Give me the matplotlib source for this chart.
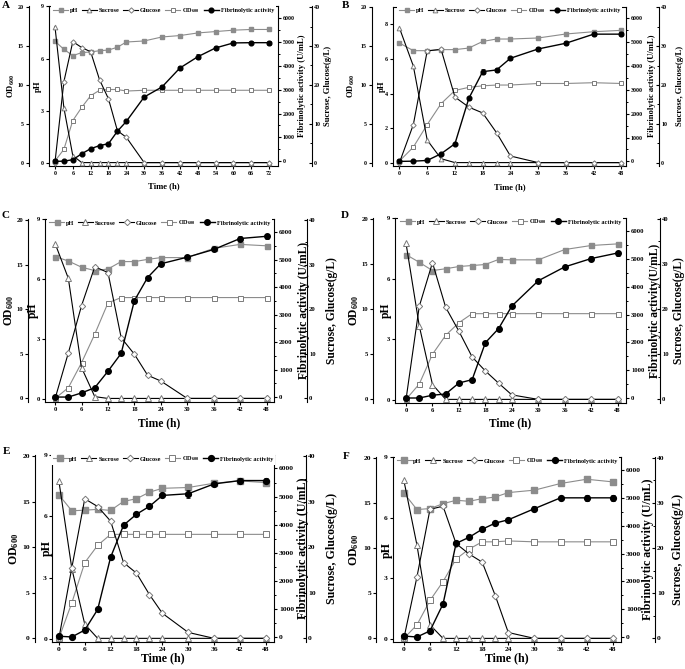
import matplotlib

matplotlib.use("Agg")
import matplotlib.pyplot as plt  # noqa: E402
from matplotlib.ticker import MultipleLocator  # noqa: E402

plt.rcParams["font.family"] = "Liberation Serif"
plt.rcParams["font.weight"] = "bold"
plt.rcParams["axes.labelweight"] = "bold"
plt.rcParams["mathtext.fontset"] = "custom"
plt.rcParams["mathtext.rm"] = "Liberation Serif:bold"
plt.rcParams["mathtext.bf"] = "Liberation Serif:bold"
plt.rcParams["mathtext.default"] = "bf"

# sampling times (h)
T72 = [0, 3, 6, 9, 12, 15, 18, 21, 24, 30, 36, 42, 48, 54, 60, 66, 72]
T48 = [0, 3, 6, 9, 12, 15, 18, 21, 24, 30, 36, 42, 48]

# panel A
A_PH = [7.00, 6.53, 6.17, 6.34, 6.38, 6.45, 6.49, 6.65, 6.95, 7.01, 7.24, 7.32, 7.47, 7.55, 7.63, 7.67, 7.67]
A_SUC = [35.0, 14.1, 1.8, 0, 0, 0, 0, 0, 0, 0, 0, 0, 0, 0, 0, 0, 0]
A_GLC = [0, 20.8, 31.1, 29.6, 28.5, 21.3, 16.4, 8.2, 6.5, 0, 0, 0, 0, 0, 0, 0, 0]
A_OD = [0.2, 1.7, 5.4, 7.1, 8.6, 9.3, 9.4, 9.4, 9.2, 9.3, 9.3, 9.3, 9.3, 9.3, 9.3, 9.3, 9.3]
A_FIB = [0, 10, 70, 320, 530, 660, 740, 1260, 1670, 2690, 3110, 3900, 4370, 4740, 4950, 4960, 4960]
A_ERR = [0, 0, 20, 30, 30, 30, 30, 50, 60, 60, 80, 90, 100, 80, 70, 70, 80]

# panel B
B_PH = [6.91, 6.47, 6.47, 6.53, 6.53, 6.62, 7.00, 7.14, 7.14, 7.20, 7.43, 7.56, 7.64]
B_SUC = [34.7, 24.9, 5.8, 1.0, 0, 0, 0, 0, 0, 0, 0, 0, 0]
B_GLC = [0, 9.8, 28.8, 29.2, 16.9, 14.3, 12.8, 7.7, 1.7, 0, 0, 0, 0]
B_OD = [0.2, 2.0, 4.9, 7.6, 9.3, 9.7, 9.9, 10.0, 10.0, 10.2, 10.2, 10.3, 10.2]
B_FIB = [0, 10, 40, 320, 740, 2640, 3760, 3830, 4320, 4710, 4950, 5330, 5330]
B_ERR = [0, 0, 20, 30, 40, 60, 100, 100, 60, 80, 80, 70, 70]

# panel C
C_PH = [7.12, 6.90, 6.59, 6.42, 6.50, 6.87, 6.87, 6.98, 7.07, 7.07, 7.53, 7.73, 7.66]
C_SUC = [34.7, 26.9, 6.9, 0.4, 0, 0, 0, 0, 0, 0, 0, 0, 0]
C_GLC = [0, 10.2, 20.8, 29.5, 28.2, 13.6, 9.9, 5.2, 3.9, 0, 0, 0, 0]
C_OD = [0, 1.2, 4.0, 7.2, 10.7, 11.3, 11.3, 11.3, 11.3, 11.3, 11.3, 11.3, 11.3]
C_FIB = [0, 0, 150, 340, 940, 1590, 3510, 4350, 4850, 5090, 5370, 5770, 5850]
C_ERR = [0, 0, 20, 30, 40, 40, 50, 60, 50, 60, 60, 100, 90]

# panel D
D_PH = [7.19, 6.81, 6.40, 6.49, 6.60, 6.65, 6.70, 6.95, 6.93, 6.93, 7.44, 7.64, 7.72]
D_SUC = [34.6, 16.3, 3.3, 0, 0, 0, 0, 0, 0, 0, 0, 0, 0]
D_GLC = [0, 20.6, 30.3, 20.4, 15.1, 9.4, 6.3, 3.6, 1.0, 0, 0, 0, 0]
D_OD = [0, 1.7, 5.0, 7.1, 8.5, 9.5, 9.5, 9.5, 9.5, 9.5, 9.5, 9.5, 9.5]
D_FIB = [0, 0, 100, 145, 540, 660, 1990, 2500, 3310, 4220, 4720, 5020, 5220]
D_ERR = [0, 0, 20, 30, 40, 40, 60, 80, 70, 70, 80, 80, 90]

# panel E
E_PH = [7.05, 6.27, 6.30, 6.34, 6.29, 6.73, 6.86, 7.18, 7.37, 7.41, 7.62, 7.73, 7.65]
E_SUC = [34.5, 15.3, 3.1, 0, 0, 0, 0, 0, 0, 0, 0, 0, 0]
E_GLC = [0, 15.5, 30.6, 28.9, 25.7, 16.6, 14.3, 9.6, 5.5, 1.3, 0, 0, 0]
E_OD = [0, 3.9, 8.3, 10.2, 11.4, 11.4, 11.4, 11.4, 11.4, 11.4, 11.4, 11.4, 11.4]
E_FIB = [25, 0, 245, 980, 2840, 3980, 4370, 4650, 5040, 5100, 5450, 5570, 5570]
E_ERR = [0, 0, 30, 40, 60, 60, 60, 60, 70, 150, 70, 90, 80]

# panel F
F_PH = [7.22, 6.40, 6.45, 6.69, 6.86, 6.81, 6.94, 7.02, 7.24, 7.36, 7.69, 7.90, 7.77]
F_SUC = [35.0, 20.7, 3.0, 0, 0, 0, 0, 0, 0, 0, 0, 0, 0]
F_GLC = [0, 13.6, 28.6, 29.3, 21.0, 18.7, 16.9, 9.5, 1.3, 0, 0, 0, 0]
F_OD = [0, 1.5, 4.2, 6.3, 8.8, 9.9, 10.7, 10.7, 10.8, 10.7, 10.7, 10.7, 10.7]
F_FIB = [35, 0, 220, 1190, 3370, 3590, 3880, 4100, 4220, 4620, 5010, 5010, 5010]
F_ERR = [0, 0, 30, 40, 60, 60, 60, 60, 60, 80, 80, 100, 120]

PANELS = {
    "A": (T72, A_PH, A_SUC, A_GLC, A_OD, A_FIB, A_ERR),
    "B": (T48, B_PH, B_SUC, B_GLC, B_OD, B_FIB, B_ERR),
    "C": (T48, C_PH, C_SUC, C_GLC, C_OD, C_FIB, C_ERR),
    "D": (T48, D_PH, D_SUC, D_GLC, D_OD, D_FIB, D_ERR),
    "E": (T48, E_PH, E_SUC, E_GLC, E_OD, E_FIB, E_ERR),
    "F": (T48, F_PH, F_SUC, F_GLC, F_OD, F_FIB, F_ERR),
}

# pixel boxes (left, right, top, bottom) and per-panel sizing
LAYOUT = {
    "A": dict(box=(49, 278, 6.3, 165.7), xmax=72, xlim=(-2, 75), ph_step=3, od_off=20, suc_off=34,
              lab=(-0.165, -0.048, 1.105, 1.218), xlab=-0.128, ft=4.3, fl=6.2, ms=3.4,
              letter=(2, 1), fib_label="Fibrinolytic activity (U/mL)"),
    "B": dict(box=(393, 626, 6.7, 165.7), xmax=48, xlim=(-1.4, 49), ph_step=2, od_off=21, suc_off=33,
              lab=(-0.178, -0.048, 1.11, 1.23), xlab=-0.135, ft=4.3, fl=6.2, ms=3.4,
              letter=(342, 1), fib_label="Fibrinolytic activity (U/mL)"),
    "C": dict(box=(45, 274, 219, 402), xmax=48, xlim=(-2.3, 49.7), ph_step=3, od_off=17, suc_off=33,
              lab=(-0.158, -0.052, 1.131, 1.252), xlab=-0.115, ft=4.8, fl=8.3, ms=4.0,
              letter=(1, 211), fib_label="Fibrinolytic activity (U/mL)"),
    "D": dict(box=(395, 626, 218, 403), xmax=48, xlim=(-2.5, 49.9), ph_step=3, od_off=22, suc_off=34,
              lab=(-0.178, -0.039, 1.126, 1.23), xlab=-0.109, ft=4.8, fl=8.3, ms=4.0,
              letter=(341, 211), fib_label="Fibrinolytic activity(U/mL)"),
    "E": dict(box=(52, 274, 455, 642), xmax=48, xlim=(-1.6, 49.9), ph_step=3, od_off=17, suc_off=32,
              lab=(-0.172, -0.023, 1.13, 1.26), xlab=-0.086, ft=5.4, fl=8.6, ms=4.2,
              letter=(3, 447), fib_label="Fibrinolytic activity (U/mL)"),
    "F": dict(box=(393, 621, 457, 642), xmax=48, xlim=(-2.5, 49.9), ph_step=3, od_off=17, suc_off=34,
              lab=(-0.172, -0.028, 1.118, 1.25), xlab=-0.086, ft=5.4, fl=8.6, ms=4.2,
              letter=(343, 452), fib_label="Fibrinolytic activity (U/mL)"),
}

W, H = 685, 669
GRAY = "#8c8c8c"
EDGE = "#7a7a7a"

fig = plt.figure(figsize=(W / 100, H / 100), dpi=100)
fig.patch.set_facecolor("white")


def frac_rect(l, r, t, b):
    return [l / W, 1 - b / H, (r - l) / W, (b - t) / H]


def draw_panel(key):
    t, ph, suc, glc, od, fib, err = PANELS[key]
    lay = LAYOUT[key]
    l, r, top, b = lay["box"]
    ft, fl, ms = lay["ft"], lay["fl"], lay["ms"]

    ax = fig.add_axes(frac_rect(l, r, top, b))
    ax_od = ax.twinx()
    ax_suc = ax.twinx()
    ax_fib = ax.twinx()

    for a in (ax_od, ax_suc, ax_fib):
        for s in a.spines.values():
            s.set_visible(False)
    ax.spines["right"].set_visible(False)
    for s in ax.spines.values():
        s.set_linewidth(0.8)

    # OD axis, pushed out to the left
    ax_od.spines["left"].set_visible(True)
    ax_od.spines["left"].set_linewidth(0.8)
    ax_od.spines["left"].set_position(("outward", lay["od_off"] * 0.72))
    ax_od.yaxis.set_ticks_position("left")
    ax_od.yaxis.set_label_position("left")

    # activity axis on the right edge
    ax_fib.spines["right"].set_visible(True)
    ax_fib.spines["right"].set_linewidth(0.8)

    # sugar axis, pushed out to the right
    ax_suc.spines["right"].set_visible(True)
    ax_suc.spines["right"].set_linewidth(0.8)
    ax_suc.spines["right"].set_position(("outward", lay["suc_off"] * 0.72))

    ax.set_xlim(*lay["xlim"])
    ax.set_xticks(range(0, lay["xmax"] + 1, 6))
    ax.set_ylim(-0.15, 9)
    ax.set_yticks(range(0, 10, lay["ph_step"]))
    ax_od.set_ylim(-0.4, 20.1)
    ax_od.set_yticks(range(0, 21, 5))
    ax_suc.set_ylim(-0.8, 40.2)
    ax_suc.set_yticks(range(0, 41, 10))
    ax_suc.yaxis.set_minor_locator(MultipleLocator(5))
    ax_fib.set_ylim(-180, 6480)
    ax_fib.set_yticks(range(0, 6001, 1000))
    ax_fib.yaxis.set_minor_locator(MultipleLocator(500))

    ax.tick_params(axis="both", direction="out", length=2.4, width=0.8, labelsize=ft, pad=1.2)
    ax_od.tick_params(axis="y", direction="out", length=2.4, width=0.8, labelsize=ft, pad=1.2)
    ax_fib.tick_params(axis="y", which="major", direction="out", length=2.4, width=0.8, labelsize=ft, pad=1.2)
    ax_fib.tick_params(axis="y", which="minor", direction="out", length=1.4, width=0.7)
    ax_suc.tick_params(axis="y", which="major", direction="in", length=2.4, width=0.8, labelsize=ft, pad=1.5)
    ax_suc.tick_params(axis="y", which="minor", direction="in", length=1.4, width=0.7)

    h_ph, = ax.plot(t, ph, color=GRAY, lw=0.8, marker="s", ms=ms * 0.9, mfc=GRAY, mec=GRAY,
                    clip_on=False, zorder=3)
    h_od, = ax_od.plot(t, od, color=GRAY, lw=0.8, marker="s", ms=ms * 0.9, mfc="white", mec=EDGE,
                       mew=0.7, clip_on=False, zorder=3)
    h_suc, = ax_suc.plot(t, suc, color="black", lw=0.8, marker="^", ms=ms, mfc="white", mec=EDGE,
                         mew=0.7, clip_on=False, zorder=3)
    h_glc, = ax_suc.plot(t, glc, color="black", lw=0.8, marker="D", ms=ms * 0.8, mfc="white", mec=EDGE,
                         mew=0.7, clip_on=False, zorder=3)
    ax_fib.errorbar(t, fib, yerr=err, fmt="none", ecolor="black", elinewidth=0.6, capsize=1.3,
                    capthick=0.6, zorder=3)
    h_fib, = ax_fib.plot(t, fib, color="black", lw=1.0, marker="o", ms=ms, mfc="black", mec="black",
                         clip_on=False, zorder=4)

    ax.set_xlabel("Time (h)", fontsize=fl)
    ax.xaxis.set_label_coords(0.5, lay["xlab"])
    ax.xaxis.label.set_va("center")
    ax_od.set_ylabel("OD$_{600}$", fontsize=fl)
    ax.set_ylabel("pH", fontsize=fl)
    ax_fib.set_ylabel(lay["fib_label"], fontsize=fl)
    ax_suc.set_ylabel("Sucrose, Glucose(g/L)", fontsize=fl)
    for a, x in zip((ax_od, ax, ax_fib, ax_suc), lay["lab"]):
        a.yaxis.set_label_coords(x, 0.5)
        a.yaxis.label.set_va("center")
        a.yaxis.label.set_rotation(90)

    leg = ax_fib.legend(
        [h_ph, h_suc, h_glc, h_od, h_fib],
        ["pH", "Sucrose", "Glucose", "OD$_{600}$", "Fibrinolytic activity"],
        loc="center", bbox_to_anchor=(0.5, 1 - 4 / (b - top)), ncol=5, fontsize=4.5,
        frameon=True, fancybox=False, edgecolor="none", facecolor="white", framealpha=1,
        handlelength=2.4, handletextpad=0.3, columnspacing=0.6, borderpad=0.3,
        borderaxespad=0, numpoints=1,
    )
    leg.set_zorder(10)

    lx, ly = lay["letter"]
    fig.text(lx / W, 1 - ly / H, key, fontsize=8, fontweight="bold", ha="left", va="top")


for key in "ABCDEF":
    draw_panel(key)

fig.savefig("out.png", dpi=100, facecolor="white")
